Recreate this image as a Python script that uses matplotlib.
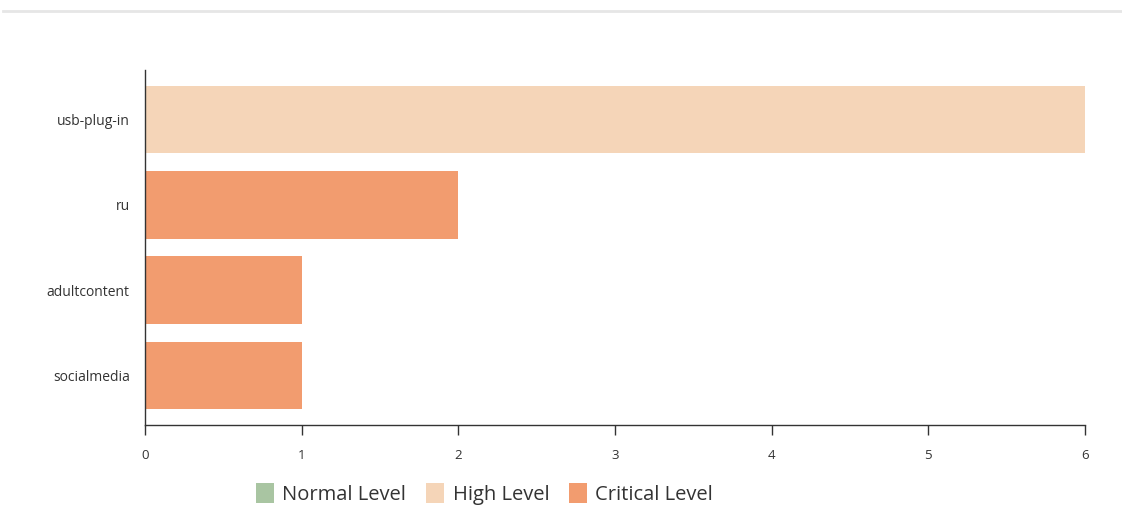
import matplotlib.pyplot as plt
from matplotlib.patches import Patch
from matplotlib.lines import Line2D

plt.rcParams['font.family'] = ['Open Sans', 'DejaVu Sans']

categories = ['usb-plug-in', 'ru', 'adultcontent', 'socialmedia']
counts = [6, 2, 1, 1]
levels = ['High', 'Critical', 'Critical', 'Critical']

level_names = ['Normal Level', 'High Level', 'Critical Level']
level_colors = {'Normal': '#a9c5a2', 'High': '#f5d5b8', 'Critical': '#f29c6f'}

fig = plt.figure(figsize=(11.22, 5.19), dpi=100)
ax = fig.add_axes([0.1292, 0.1811, 0.8378, 0.6839])

y = list(range(len(categories)))
colors = [level_colors[l] for l in levels]
ax.barh(y, counts, height=0.79, color=colors, edgecolor='none')

ax.set_ylim(len(categories) - 0.42, -0.58)
ax.set_xlim(0, 6)
ax.set_yticks(y)
ax.set_yticklabels(categories, fontsize=10, color='#333333')
ax.set_xticks(range(0, 7))
ax.tick_params(axis='y', length=0, pad=11)
ax.tick_params(axis='x', length=7, width=1, color='#333333', labelsize=9.5,
               labelcolor='#333333', pad=10)

for s in ['top', 'right']:
    ax.spines[s].set_visible(False)
for s in ['left', 'bottom']:
    ax.spines[s].set_color('#333333')
    ax.spines[s].set_linewidth(1)

handles = [Patch(facecolor=level_colors[k], edgecolor='none') for k in ['Normal', 'High', 'Critical']]
fig.legend(handles, level_names, loc='center', bbox_to_anchor=(0.432, 0.048), ncol=3,
           frameon=False, fontsize=14.5, handlelength=0.9, handleheight=1.1,
           handletextpad=0.4, columnspacing=1.0, labelcolor='#333333')

fig.add_artist(Line2D([0.003, 1.0], [1 - 11 / 519, 1 - 11 / 519], color='#e6e6e6', linewidth=2))

fig.savefig('out.png', dpi=100)
